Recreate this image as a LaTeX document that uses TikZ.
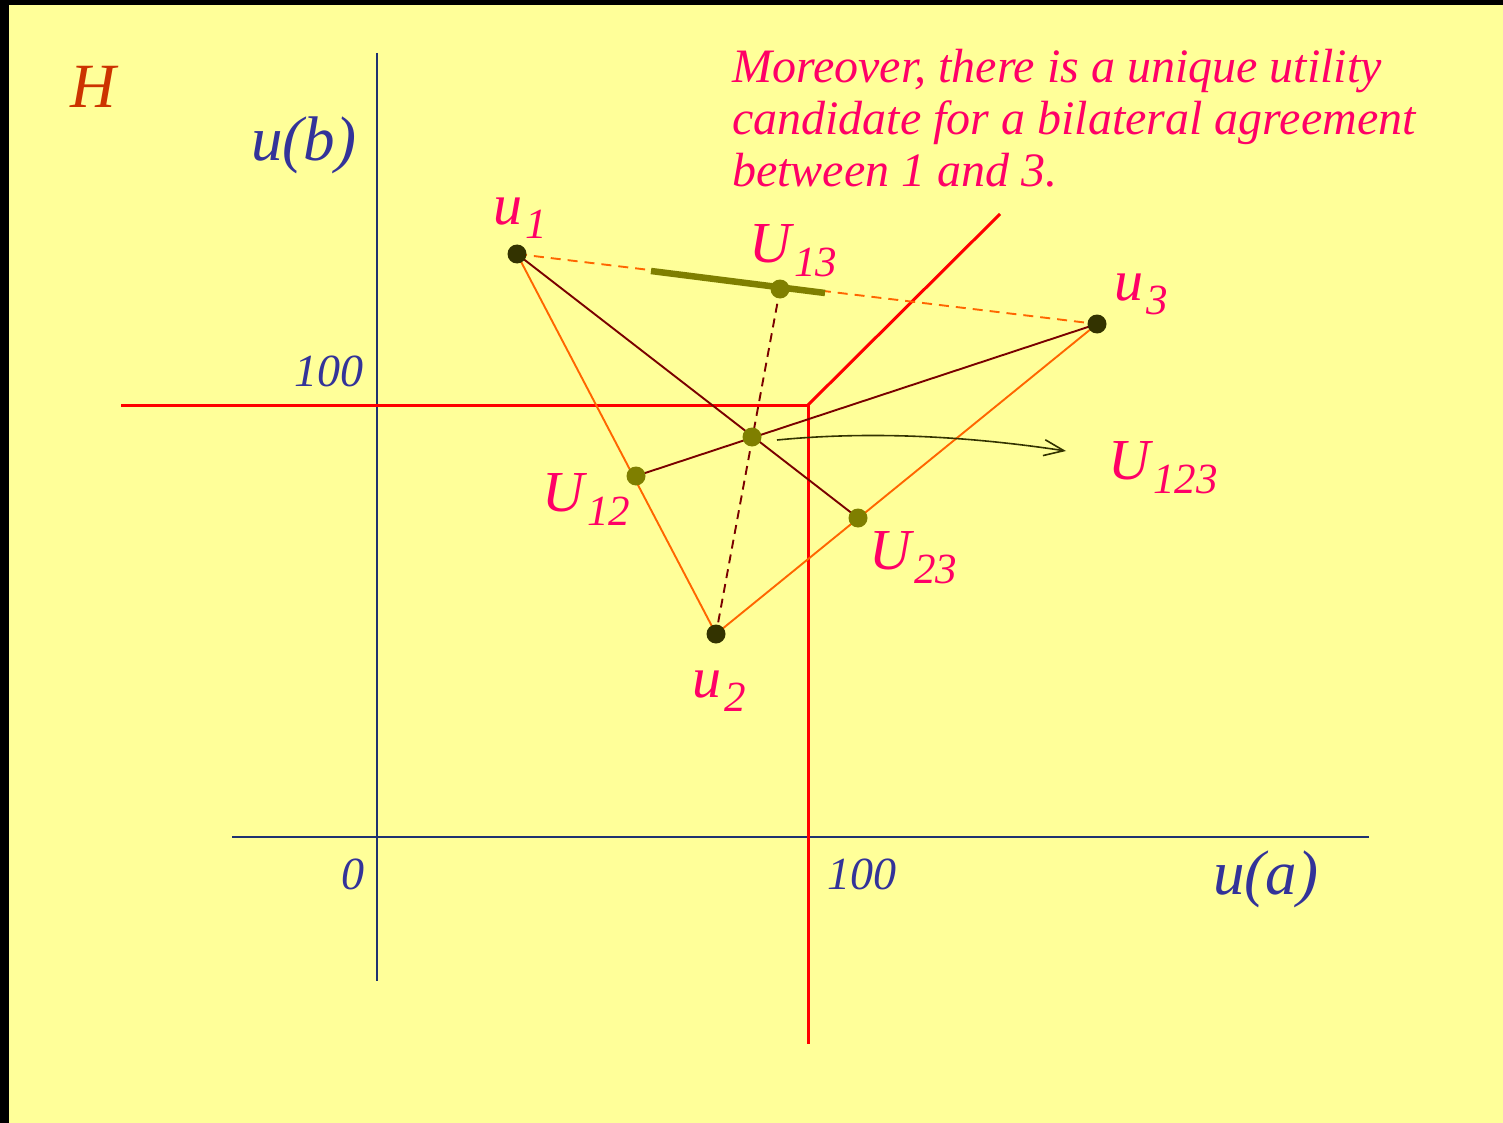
\documentclass[tikz,border=0pt]{standalone}
\usepackage{fontspec}
\setmainfont{Liberation Serif}
\usetikzlibrary{arrows.meta}
\definecolor{bg}{HTML}{FFFF99}
\definecolor{axblue}{HTML}{1F3270}
\definecolor{txblue}{HTML}{333399}
\definecolor{pinkl}{HTML}{FF0066}
\definecolor{hcol}{HTML}{CC3300}
\definecolor{orl}{HTML}{FF6600}
\definecolor{dred}{HTML}{7A0000}
\definecolor{olive}{HTML}{7F7F00}
\definecolor{ddot}{HTML}{333300}
\newcommand\fs[1]{\fontsize{#1}{#1}\selectfont}
\newcommand\lbl[2]{\fs{58}\itshape #1\kern3pt\raisebox{-14pt}{\fs{43}#2}}
\begin{document}
\begin{tikzpicture}[x=1pt,y=-1pt,
  axis/.style={draw=axblue,line width=1.8pt},
  redl/.style={draw=red,line width=3pt},
  orline/.style={draw=orl,line width=1.9pt},
  drline/.style={draw=dred,line width=1.9pt},
  darkdot/.style={circle,fill=ddot,inner sep=0pt,minimum size=19pt},
  olivedot/.style={circle,fill=olive,inner sep=0pt,minimum size=19pt},
  pt/.style={text=pinkl,anchor=base west,inner sep=0pt},
  bl/.style={text=txblue,inner sep=0pt,font=\fs{46}\itshape}]
\useasboundingbox (0,0) rectangle (1503,1123);
\fill[black] (0,0) rectangle (1503,1123);
\fill[bg] (9,5) rectangle (1503,1123);
% axes
\coordinate (yaT) at (377,53); \coordinate (yaB) at (377,981);
\coordinate (xaL) at (232,837); \coordinate (xaR) at (1369,837);
\draw[axis] (yaT) -- (yaB);
\draw[axis] (xaL) -- (xaR);
% red lines
\coordinate (rc) at (808,405); \coordinate (rl) at (121,405);
\coordinate (rb) at (808,1044); \coordinate (rd) at (1000,214);
\draw[redl] (rl) -- (rc) -- (rb);
\draw[redl] (rc) -- (rd);
% points
\coordinate (u1) at (517,254); \coordinate (u2) at (716,634); \coordinate (u3) at (1097,324);
\coordinate (U13) at (780,289); \coordinate (U12) at (636,476);
\coordinate (U23) at (858,518); \coordinate (U123) at (752,437);
\coordinate (segA) at (651,271); \coordinate (segB) at (825,293);
\draw[orline,dashed,dash pattern=on 10pt off 7pt] (u1) -- (u3);
\draw[orline] (u1) -- (u2) -- (u3);
\draw[drline] (u1) -- (U23);
\draw[drline] (U12) -- (u3);
\draw[drline,dash pattern=on 9pt off 6pt] (U13) -- (u2);
\draw[draw=olive,line width=6.5pt] (segA) -- (segB);
\node[darkdot] (n1) at (u1) {}; \node[darkdot] (n2) at (u2) {}; \node[darkdot] (n3) at (u3) {};
\node[olivedot] (m13) at (U13) {}; \node[olivedot] (m12) at (U12) {};
\node[olivedot] (m23) at (U23) {}; \node[olivedot] (m123) at (U123) {};
% arrow
\coordinate (arS) at (777,440); \coordinate (arE) at (1066,451);
\draw[draw=ddot,line width=1.6pt,-{Straight Barb[length=20pt,width=16pt,line width=1.6pt]}] (arS) .. controls (880,430) and (980,438) .. (arE);
% labels
\node[pt] (l1) at (493,225) {\lbl{u}{1}};
\node[pt] (l13) at (749,262) {\lbl{U}{13}};
\node[pt] (l3) at (1114,300) {\lbl{u}{3}};
\node[pt] (l12) at (542,511) {\lbl{U}{12}};
\node[pt] (l23) at (869,569) {\lbl{U}{23}};
\node[pt] (l2) at (692,697) {\lbl{u}{2}};
\node[pt] (l123) at (1108,479) {\lbl{U}{123}};
\node[text=hcol,anchor=base west,inner sep=0pt,font=\fs{63}\itshape] (H) at (70,108) {H};
\node[text=txblue,anchor=base west,inner sep=0pt,font=\fs{63}\itshape] (ub) at (251,161) {u(b)};
\node[text=txblue,anchor=base west,inner sep=0pt,font=\fs{63}\itshape] (ua) at (1213,894) {u(a)};
\node[bl,anchor=base west] (h1) at (294,386) {100};
\node[bl,anchor=base west] (z0) at (341,889) {0};
\node[bl,anchor=base west] (h2) at (827,889) {100};
\node[text=pinkl,anchor=north west,inner sep=0pt,align=left,font=\fs{48}\itshape,
  execute at begin node=\setlength{\baselineskip}{52pt}] (txt) at (732,49)
  {Moreover, there is a unique utility\\candidate for a bilateral agreement\\between 1 and 3.};
\end{tikzpicture}
\end{document}
